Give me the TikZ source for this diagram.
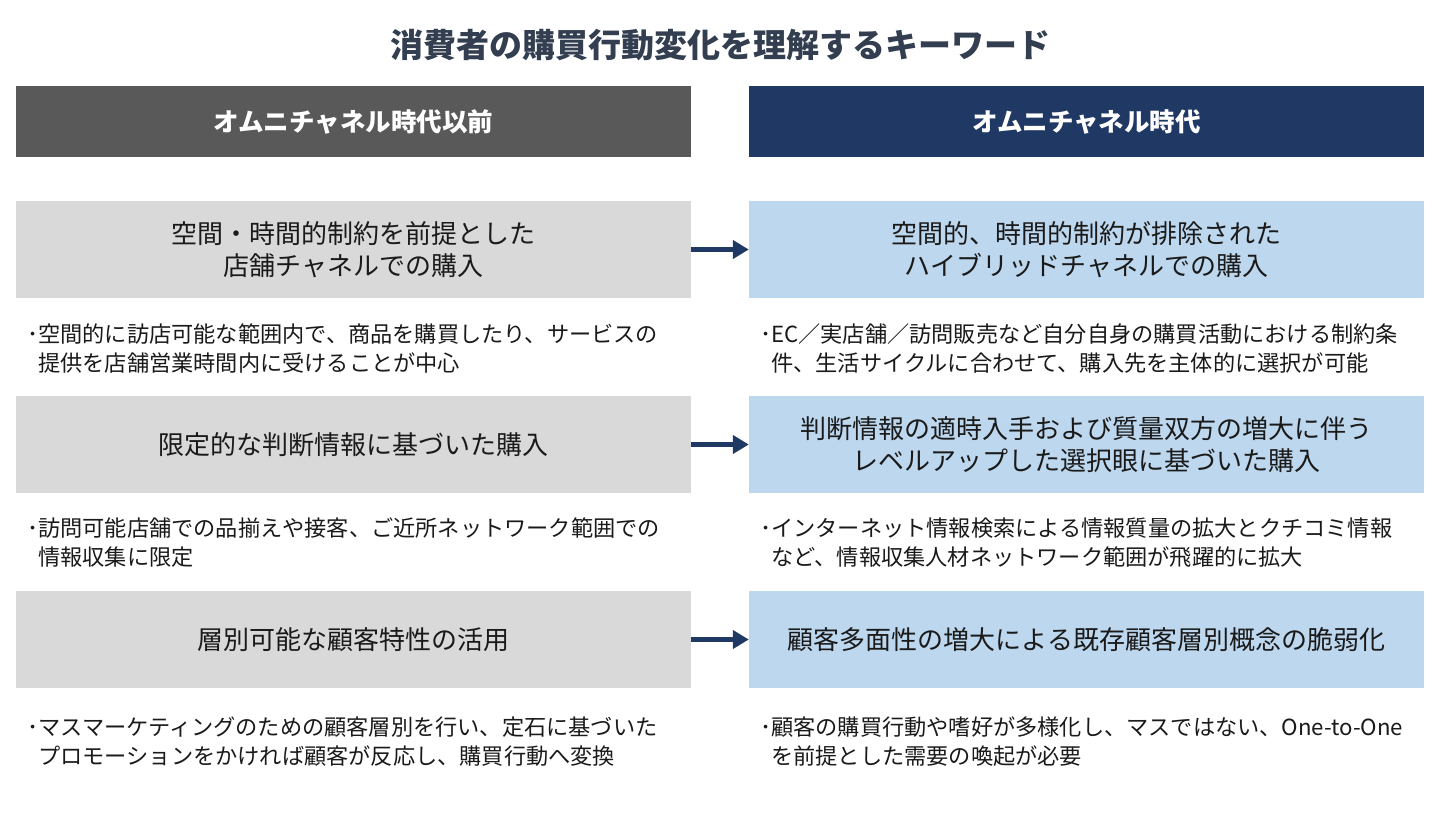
\documentclass[tikz,border=0pt]{standalone}
\usepackage{fontspec}
\setmainfont{Noto Sans CJK JP}
\usetikzlibrary{arrows.meta}
\definecolor{titlec}{HTML}{333F50}
\definecolor{hdgray}{HTML}{595959}
\definecolor{hdnavy}{HTML}{203864}
\definecolor{boxgray}{HTML}{D9D9D9}
\definecolor{boxblue}{HTML}{BDD7EE}
\definecolor{txt}{HTML}{1A1A1A}
\definecolor{arrowc}{HTML}{203864}
\tikzset{
  hdbox/.style={rectangle, inner sep=0pt, minimum width=675pt, minimum height=71pt, text=white, font=\fontsize{25.5}{30}\selectfont\bfseries},
  keybox/.style={rectangle, inner sep=0pt, minimum width=675pt, minimum height=97pt, text=txt, align=center, font=\fontsize{26}{32}\selectfont},
  desc/.style={anchor=north west, inner sep=0pt, align=left, text=txt, font=\fontsize{22.2}{29}\selectfont},
  arr/.style={draw=arrowc, line width=5.5pt, -{Triangle[length=16pt,width=18pt]}},
}
\begin{document}
\begin{tikzpicture}[x=1pt,y=-1pt]
\useasboundingbox[fill=white] (0,0) rectangle (1440,815);
\node[text=titlec, font=\fontsize{33}{38}\selectfont\bfseries] (title) at (720,45) {消費者の購買行動変化を理解するキーワード};
\node[hdbox, fill=hdgray] (hl) at (353.5,121.5) {オムニチャネル時代以前};
\node[hdbox, fill=hdnavy] (hr) at (1086.5,121.5) {オムニチャネル時代};

\node[keybox, fill=boxgray] (l1) at (353.5,249.5) {空間・時間的制約を前提とした\\店舗チャネルでの購入};
\node[keybox, fill=boxblue] (r1) at (1086.5,249.5) {空間的、時間的制約が排除された\\ハイブリッドチャネルでの購入};
\node[keybox, fill=boxgray] (l2) at (353.5,444.5) {限定的な判断情報に基づいた購入};
\node[keybox, fill=boxblue] (r2) at (1086.5,444.5) {判断情報の適時入手および質量双方の増大に伴う\\レベルアップした選択眼に基づいた購入};
\node[keybox, fill=boxgray] (l3) at (353.5,639.5) {層別可能な顧客特性の活用};
\node[keybox, fill=boxblue] (r3) at (1086.5,639.5) {顧客多面性の増大による既存顧客層別概念の脆弱化};

\draw[arr] (l1.east) -- (r1.west);
\draw[arr] (l2.east) -- (r2.west);
\draw[arr] (l3.east) -- (r3.west);

\node[desc] (dl1) at (27,324) {･空間的に訪店可能な範囲内で、商品を購買したり、サービスの\\\hphantom{･}提供を店舗営業時間内に受けることが中心};
\node[desc] (dr1) at (760,324) {･EC／実店舗／訪問販売など自分自身の購買活動における制約条\\\hphantom{･}件、生活サイクルに合わせて、購入先を主体的に選択が可能};
\node[desc] (dl2) at (27,518) {･訪問可能店舗での品揃えや接客、ご近所ネットワーク範囲での\\\hphantom{･}情報収集に限定};
\node[desc] (dr2) at (760,518) {･インターネット情報検索による情報質量の拡大とクチコミ情報\\\hphantom{･}など、情報収集人材ネットワーク範囲が飛躍的に拡大};
\node[desc] (dl3) at (27,717) {･マスマーケティングのための顧客層別を行い、定石に基づいた\\\hphantom{･}プロモーションをかければ顧客が反応し、購買行動へ変換};
\node[desc] (dr3) at (760,717) {･顧客の購買行動や嗜好が多様化し、マスではない、One-to-One\\\hphantom{･}を前提とした需要の喚起が必要};
\end{tikzpicture}
\end{document}
